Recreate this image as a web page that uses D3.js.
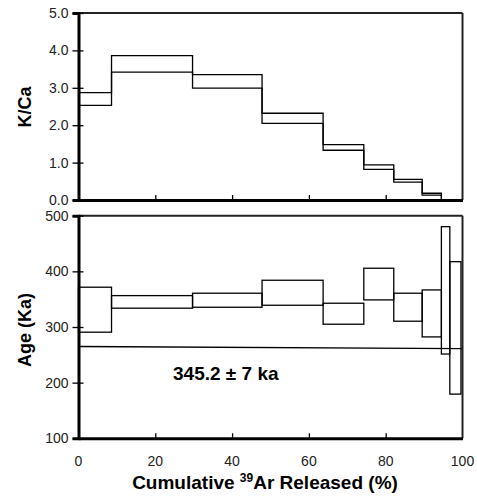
<!DOCTYPE html>
<html>
<head>
<script src="https://cdn.jsdelivr.net/npm/d3@7"></script>
<style>
  body { margin: 0; background: #fff; }
  text { font-family: "Liberation Sans", Arial, sans-serif; }
</style>
</head>
<body>
<div id="chart"></div>
<script>
// step edges in cumulative 39Ar released (%)
var stepEdges = [0, 8.6, 29.7, 47.8, 63.7, 74.3, 82.1, 89.5, 94.5, 96.7, 99.6];
// K/Ca band, upper and lower edge per step
var kcaHigh = [2.87, 3.86, 3.35, 2.32, 1.48, 0.94, 0.55, 0.18, 0.0, 0.0];
var kcaLow  = [2.53, 3.42, 2.99, 2.05, 1.33, 0.82, 0.48, 0.13, 0.0, 0.0];
// age boxes (ka)
var ageHigh = [371.5, 356.4, 360.7, 384, 342.7, 405.6, 360.7, 366.6, 480.3, 417.4];
var ageLow  = [290.7, 333.8, 335.5, 339.1, 305, 348.7, 310.4, 282.2, 251.4, 179.4];
// plateau line, [percent, age]
var plateauLine = [[0, 265], [100, 261]];
var plateauLabel = "345.2 \u00b1 7 ka";

var xTicks = [0, 20, 40, 60, 80, 100];
var kcaTicks = [0, 1, 2, 3, 4, 5];
var ageTicks = [100, 200, 300, 400, 500];

var W = 477, H = 502;
var left = 78.5, right = 462.5;

var svg = d3.select("#chart").append("svg")
    .attr("width", W).attr("height", H);

var x = d3.scaleLinear().domain([0, 100]).range([left, right]);
var yK = d3.scaleLinear().domain([0, 5]).range([200, 13]);
var yA = d3.scaleLinear().domain([100, 500]).range([438.3, 215.7]);

function frame(y, ticks, fmt) {
    var g = svg.append("g");
    var top = y.range()[1], bot = y.range()[0];

    // top and right border, thinner
    g.append("line").attr("x1", left).attr("x2", right).attr("y1", top).attr("y2", top)
        .style("stroke", "#222").style("stroke-width", 2);
    g.append("line").attr("x1", right).attr("x2", right).attr("y1", top).attr("y2", bot)
        .style("stroke", "#222").style("stroke-width", 2);

    var ya = d3.axisLeft(y).tickValues(ticks).tickFormat(fmt).tickSize(6).tickPadding(4);
    var yg = g.append("g").attr("transform", "translate(" + left + ",0)").call(ya);
    yg.select(".domain").style("stroke", "#000").style("stroke-width", 3);
    yg.selectAll(".tick line").attr("x2", -6).attr("x1", 5).style("stroke-width", 1.3);
    yg.selectAll(".tick text").style("font-size", "14px").style("fill", "#222")
        .style("font-family", "'Liberation Sans', Arial, sans-serif");

    var xa = d3.axisBottom(x).tickValues(xTicks.slice(1, 5)).tickSizeInner(-5).tickSizeOuter(0).tickFormat("");
    var xg = g.append("g").attr("transform", "translate(0," + bot + ")").call(xa);
    xg.select(".domain").style("stroke", "#000").style("stroke-width", 3);
    xg.selectAll(".tick line").style("stroke-width", 1.3);
    return g;
}

// K/Ca panel: two staircase lines
var gk = svg.append("g");
function stairs(vals) {
    var pts = [];
    vals.forEach(function(v, i) {
        pts.push([stepEdges[i], v]);
        pts.push([stepEdges[i + 1], v]);
    });
    return pts;
}
var kLine = d3.line()
    .x(function(d) { return x(d[0]); })
    .y(function(d) { return yK(d[1]); });
[kcaHigh, kcaLow].forEach(function(vals) {
    gk.append("path")
        .attr("d", kLine(stairs(vals)))
        .style("fill", "none")
        .style("stroke", "#000")
        .style("stroke-width", 1.3);
});
frame(yK, kcaTicks, d3.format(".1f"));

// age panel: boxes
var ga = svg.append("g");
ga.selectAll("rect.box")
    .data(d3.range(ageHigh.length))
    .enter().append("rect")
    .attr("class", "box")
    .attr("x", function(i) { return x(stepEdges[i]); })
    .attr("width", function(i) { return x(stepEdges[i + 1]) - x(stepEdges[i]); })
    .attr("y", function(i) { return yA(ageHigh[i]); })
    .attr("height", function(i) { return yA(ageLow[i]) - yA(ageHigh[i]); })
    .style("fill", "none")
    .style("stroke", "#000")
    .style("stroke-width", 1.3);

ga.append("line")
    .attr("x1", x(plateauLine[0][0])).attr("y1", yA(plateauLine[0][1]))
    .attr("x2", x(plateauLine[1][0])).attr("y2", yA(plateauLine[1][1]))
    .style("stroke", "#000").style("stroke-width", 1.3);

ga.append("text")
    .attr("x", 173).attr("y", 380)
    .style("font-size", "19px").style("font-weight", "bold")
    .text(plateauLabel);

frame(yA, ageTicks, d3.format("d"));

// bottom tick labels
svg.selectAll("text.xl")
    .data(xTicks)
    .enter().append("text")
    .attr("class", "xl")
    .attr("x", function(d) { return x(d); })
    .attr("y", 466)
    .attr("text-anchor", "middle")
    .style("font-size", "14px").style("fill", "#222")
    .text(function(d) { return d; });

// axis titles
var xt = svg.append("text")
    .attr("x", 265).attr("y", 489)
    .attr("text-anchor", "middle")
    .style("font-size", "19px").style("font-weight", "bold");
xt.append("tspan").text("Cumulative ");
xt.append("tspan").attr("dy", -7).style("font-size", "12px").text("39");
xt.append("tspan").attr("dy", 7).text("Ar Released (%)");

svg.append("text")
    .attr("transform", "translate(31,107) rotate(-90)")
    .attr("text-anchor", "middle")
    .style("font-size", "18px").style("font-weight", "bold")
    .text("K/Ca");

svg.append("text")
    .attr("transform", "translate(31,330) rotate(-90)")
    .attr("text-anchor", "middle")
    .style("font-size", "18px").style("font-weight", "bold")
    .text("Age (Ka)");
</script>
</body>
</html>
